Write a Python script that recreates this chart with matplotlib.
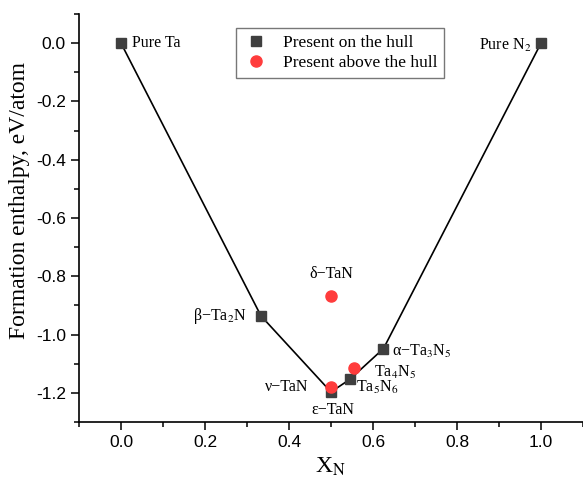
import matplotlib
matplotlib.use("Agg")
import matplotlib.pyplot as plt
from matplotlib.ticker import MultipleLocator

# ── Data ──────────────────────────────────────────────────────────────────
hull_x      = [0.0, 1 / 3, 0.5, 6 / 11, 5 / 8, 1.0]
hull_y      = [0.0, -0.936, -1.197, -1.153, -1.048, 0.0]
hull_labels = ["Pure Ta", r"β−Ta$_2$N", "ε−TaN", r"Ta$_5$N$_6$",
               r"α−Ta$_3$N$_5$", r"Pure N$_2$"]

above_x      = [0.5, 0.5, 5 / 9]
above_y      = [-0.868, -1.180, -1.115]
above_labels = ["δ−TaN", "ν−TaN", r"Ta$_4$N$_5$"]

# label offsets (points) and alignment
hull_offsets  = [(8, 0, "left"), (-10, 0, "right"), (1, -13, "center"),
                 (4, -6, "left"), (6, -2, "left"), (-7, -2, "right")]
above_offsets = [(0, 16, "center"), (-16, 0, "right"), (14, -3, "left")]

SQUARE_COLOR = "#3f3f3f"
CIRCLE_COLOR = "#ff3c3c"

plt.rcParams["mathtext.fontset"] = "stix"
plt.rcParams["axes.unicode_minus"] = False
SERIF = "Liberation Serif"
SANS = "Liberation Sans"

fig = plt.figure(figsize=(5.83, 4.87), dpi=100)
ax = fig.add_axes([79 / 583, 65 / 487, 504 / 583, 408 / 487])

ax.plot(hull_x, hull_y, color="black", linewidth=1.2, zorder=1)
ax.plot(hull_x, hull_y, linestyle="none", marker="s", markersize=7,
        color=SQUARE_COLOR, label="Present on the hull", zorder=3)
ax.plot(above_x, above_y, linestyle="none", marker="o", markersize=8,
        color=CIRCLE_COLOR, label="Present above the hull", zorder=4)

for x, y, txt, (dx, dy, ha) in zip(hull_x, hull_y, hull_labels, hull_offsets):
    ax.annotate(txt, (x, y), xytext=(dx, dy), textcoords="offset points",
                ha=ha, va="center", fontsize=11.5, family=SERIF)
for x, y, txt, (dx, dy, ha) in zip(above_x, above_y, above_labels, above_offsets):
    ax.annotate(txt, (x, y), xytext=(dx, dy), textcoords="offset points",
                ha=ha, va="center", fontsize=11.5, family=SERIF)

ax.set_xlim(-0.1, 1.1)
ax.set_ylim(-1.3, 0.1)
ax.xaxis.set_major_locator(MultipleLocator(0.2))
ax.xaxis.set_minor_locator(MultipleLocator(0.1))
ax.yaxis.set_major_locator(MultipleLocator(0.2))
ax.yaxis.set_minor_locator(MultipleLocator(0.1))
ax.tick_params(which="major", direction="out", length=6, width=1.1,
               labelsize=12.5)
ax.tick_params(which="minor", direction="out", length=3.5, width=1.1)
for lbl in ax.get_xticklabels() + ax.get_yticklabels():
    lbl.set_family(SANS)

ax.spines[["top", "right"]].set_visible(False)
ax.spines["left"].set_linewidth(1.2)
ax.spines["bottom"].set_linewidth(1.2)

ax.set_xlabel(r"X$_\mathrm{N}$", fontsize=17, family=SERIF, labelpad=4)
ax.set_ylabel("Formation enthalpy, eV/atom", fontsize=17, family=SERIF)
ax.yaxis.set_label_coords(-0.097, 0.544)

leg = ax.legend(loc="upper left", bbox_to_anchor=(0.3115, 0.966),
                borderaxespad=0, fancybox=False, prop={"family": SERIF, "size": 12.5},
                handletextpad=0.8, borderpad=0.4, labelspacing=0.25,
                handlelength=1.5)
leg.get_frame().set_edgecolor("#555555")
leg.get_frame().set_linewidth(1.0)

fig.savefig("out.png", dpi=100)
